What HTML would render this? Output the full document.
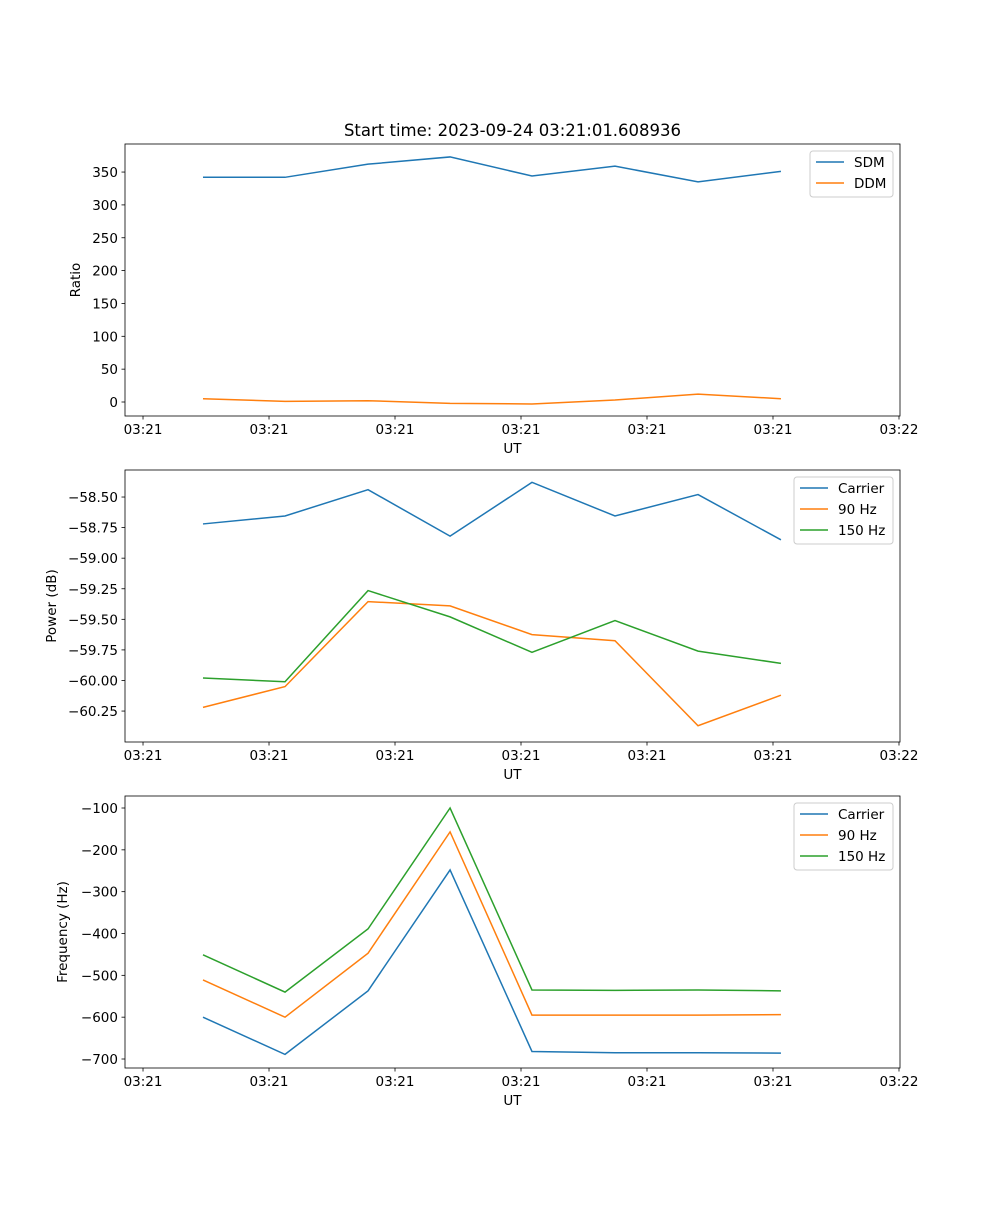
<!DOCTYPE html>
<html><head><meta charset="utf-8"><style>
body{margin:0;background:#fff;}
svg text{font-family:"DejaVu Sans","Liberation Sans",sans-serif;fill:#000;}
</style></head><body>
<svg id="fig" width="1000" height="1200" xmlns="http://www.w3.org/2000/svg"></svg>
<script>
// shared x data (in tick units)
const xTickLabels=["03:21","03:21","03:21","03:21","03:21","03:21","03:22"];
const xTickVals=[0,1,2,3,4,5,6];
const xPts=[0.476,1.127,1.786,2.437,3.087,3.746,4.405,5.063];
// panel 1
const p1Ticks=[0,50,100,150,200,250,300,350];
const sdm=[342,342,362,373,344,359,335,351];
const ddm=[5,1,2,-2,-3,3,12,5];
// panel 2
const p2Ticks=[-60.25,-60.00,-59.75,-59.50,-59.25,-59.00,-58.75,-58.50];
const pwrCarrier=[-58.72,-58.655,-58.44,-58.82,-58.38,-58.655,-58.48,-58.85];
const pwr90=[-60.22,-60.05,-59.355,-59.39,-59.625,-59.675,-60.37,-60.12];
const pwr150=[-59.98,-60.01,-59.265,-59.48,-59.77,-59.51,-59.76,-59.86];
// panel 3
const p3Ticks=[-700,-600,-500,-400,-300,-200,-100];
const frqCarrier=[-600,-689,-537,-248,-682,-685,-685,-686];
const frq90=[-511,-600,-447,-157,-595,-595,-595,-594];
const frq150=[-451,-540,-389,-100,-535,-536,-535,-537];

const NS="http://www.w3.org/2000/svg";
const svg=document.getElementById('fig');
function el(tag,attrs,parent){const e=document.createElementNS(NS,tag);for(const k in attrs)e.setAttribute(k,attrs[k]);(parent||svg).appendChild(e);return e;}
const L=125,R=900,xmin=-0.143,xmax=6.008;
const xs=v=>L+(v-xmin)/(xmax-xmin)*(R-L);

function panel(name,top,bot,ymin,ymax,yticks,fmt,ylabel,series,legend,title){
  const g=el('g',{});
  
  
  const ys=v=>bot-(v-ymin)/(ymax-ymin)*(bot-top);
  series.forEach(s=>{
    const p=el('polyline',{points:s.data.map((v,i)=>xs(xPts[i])+','+ys(v)).join(' '),fill:'none',stroke:s.color,'stroke-width':1.5},g);
    
    
  });
  el('rect',{x:L,y:top,width:R-L,height:bot-top,fill:'none',stroke:'#000','stroke-width':0.8},g);
  xTickVals.forEach((v,i)=>{
    const x=xs(v);
    el('line',{x1:x,x2:x,y1:bot,y2:bot+3.5,stroke:'#000','stroke-width':0.8},g);
    const t=el('text',{x:x,y:bot+18,'text-anchor':'middle','font-size':13.5},g);t.textContent=xTickLabels[i];
    
    
  });
  yticks.forEach(v=>{
    const y=ys(v);
    el('line',{x1:L,x2:L-3.5,y1:y,y2:y,stroke:'#000','stroke-width':0.8},g);
    const t=el('text',{x:L-7,y:y+5,'text-anchor':'end','font-size':13.5},g);t.textContent=fmt(v);
    
    
  });
  const xl=el('text',{x:(L+R)/2,y:bot+37,'text-anchor':'middle','font-size':13.5},g);xl.textContent='UT';
  
  
  const yx=ylabel.x, yl=el('text',{x:yx,y:(top+bot)/2,'text-anchor':'middle','font-size':13.5,transform:`rotate(-90 ${yx} ${(top+bot)/2})`},g);yl.textContent=ylabel.t;
  
  
  if(title){const tt=el('text',{x:(L+R)/2,y:top-8,'text-anchor':'middle','font-size':16.5},g);tt.textContent=title;
    
    }
  const lg=el('g',{},g);
  
  
  el('rect',{x:legend.x,y:top+7,width:legend.w,height:series.length*21+4,rx:3,fill:'#fff','fill-opacity':0.8,stroke:'#ccc'},lg);
  series.forEach((s,i)=>{
    const y=top+18+i*21;
    el('line',{x1:legend.x+6,x2:legend.x+34,y1:y,y2:y,stroke:s.color,'stroke-width':1.5},lg);
    const t=el('text',{x:legend.x+44,y:y+5,'font-size':13.5},lg);t.textContent=s.label;
    
    
  });
}
const B='#1f77b4',O='#ff7f0e',G='#2ca02c';
panel('ratio-panel',144,416,-21.3,392.7,p1Ticks,v=>String(v),{x:80,t:'Ratio'},
  [{id:'sdm-line',data:sdm,color:B,label:'SDM'},{id:'ddm-line',data:ddm,color:O,label:'DDM'}],{x:810,w:83},'Start time: 2023-09-24 03:21:01.608936');
panel('power-panel',470,742,-60.503,-58.279,p2Ticks,v=>v.toFixed(2).replace('-','\u2212'),{x:56,t:'Power (dB)'},
  [{id:'power-carrier-line',data:pwrCarrier,color:B,label:'Carrier'},{id:'power-90hz-line',data:pwr90,color:O,label:'90 Hz'},{id:'power-150hz-line',data:pwr150,color:G,label:'150 Hz'}],{x:794,w:99});
panel('frequency-panel',796,1068,-721.5,-71.3,p3Ticks,v=>String(v).replace('-','\u2212'),{x:67,t:'Frequency (Hz)'},
  [{id:'freq-carrier-line',data:frqCarrier,color:B,label:'Carrier'},{id:'freq-90hz-line',data:frq90,color:O,label:'90 Hz'},{id:'freq-150hz-line',data:frq150,color:G,label:'150 Hz'}],{x:794,w:99});
</script>
</body></html>
